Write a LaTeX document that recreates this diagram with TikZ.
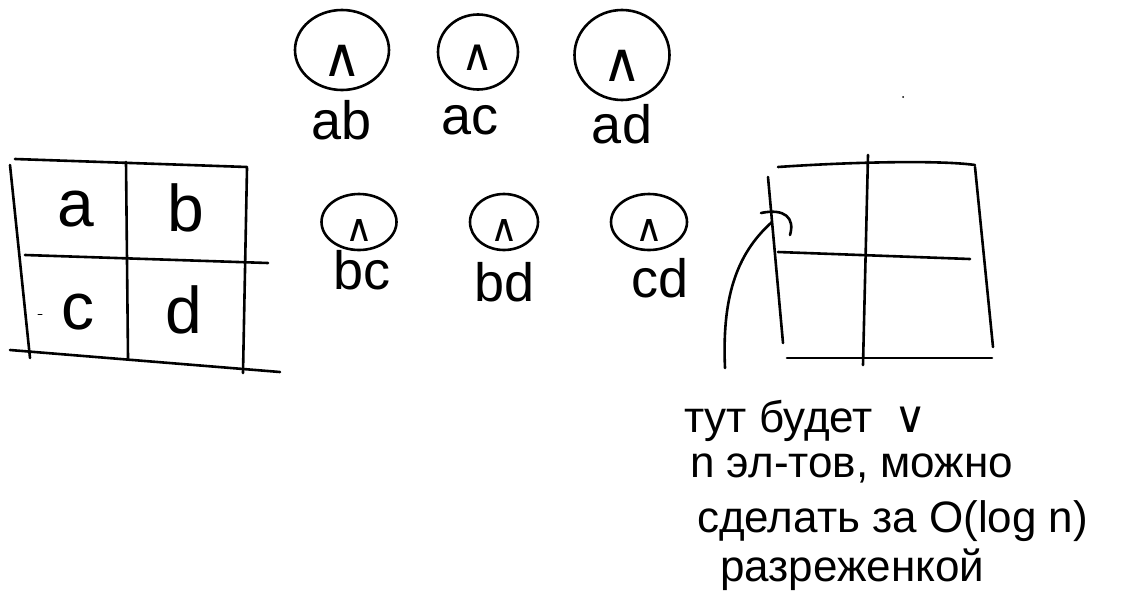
\documentclass[tikz,border=0pt]{standalone}
\usepackage{fontspec}
\setmainfont{Liberation Sans}
\newfontfamily\symf{DejaVu Sans}
\usetikzlibrary{shapes.geometric}
\begin{document}
\begin{tikzpicture}[x=1pt,y=-1pt,line cap=round,line join=round,
  pen/.style={line width=2.6pt,black},
  gate/.style={ellipse,draw,line width=2.6pt,inner sep=0pt,text depth=0pt,text height=52pt,font=\symf\fontsize{54}{54}\selectfont},
  sgate/.style={gate,text height=38pt,font=\symf\fontsize{38}{38}\selectfont},
  lab/.style={inner sep=0pt,font=\fontsize{54}{54}\selectfont},
  cell/.style={inner sep=0pt,font=\fontsize{66}{66}\selectfont},
  note/.style={inner sep=0pt,anchor=base west,font=\fontsize{44}{46}\selectfont}]
\useasboundingbox (0,0) rectangle (1129,595);
% gates
\node[gate,minimum width=94,minimum height=80] (ab) at (342,50) {∧};
\node[gate,minimum width=80,minimum height=75,text height=36pt,font=\symf\fontsize{44}{44}\selectfont] (ac) at (478,52) {∧};
\node[gate,minimum width=95,minimum height=90] (ad) at (622,55) {∧};
\node[sgate,minimum width=75,minimum height=56] (bc) at (359,222) {∧};
\node[sgate,minimum width=68,minimum height=56] (bd) at (504,222) {∧};
\node[sgate,minimum width=76,minimum height=56] (cd) at (649,222) {∧};
\node[lab] (ablab) at (342,120) {ab};
\node[lab] (aclab) at (470,120) {ac};
\node[lab] (adlab) at (622,124) {ad};
\node[lab] (bclab) at (362,270) {bc};
\node[lab] (bdlab) at (505,282) {bd};
\node[lab] (cdlab) at (660,278) {cd};
% left table
\draw[pen] (15,159) -- (247,167);
\draw[pen] (10,165) -- (30,358);
\draw[pen] (126,162) -- (128,358);
\draw[pen] (247,168) -- (243,373);
\draw[pen] (25,255) -- (268,263);
\draw[pen] (10,350) -- (280,372);
\draw[line width=1pt] (38,314) -- (42,314);
\node[cell] (a) at (76,209) {a};
\node[cell] (b) at (186,208) {b};
\node[cell] (c) at (78,312) {c};
\node[cell] (d) at (184,310) {d};
% right grid
\draw[pen] (778,167) .. controls (850,162) and (940,160) .. (975,165);
\draw[pen] (768,177) -- (783,343);
\draw[pen] (868,155) -- (863,365);
\draw[pen] (975,167) -- (993,347);
\draw[pen] (778,252) -- (970,259);
\draw[pen] (787,358) -- (992,358);
\coordinate (tail) at (725,368);
\coordinate (tip) at (772,222);
\draw[pen] (tail) .. controls (722,300) and (735,255) .. (tip);
\draw[pen] (761,213) .. controls (785,208) and (795,218) .. (790,235);
\fill (903,97) circle (1);
% note
\node[note] (t1) at (684,432) {тут будет\hspace{22pt}{\symf ∨}};
\node[note] (t2) at (690,477) {n эл-тов, можно};
\node[note] (t3) at (697,532) {сделать за O(log n)};
\node[note] (t4) at (720,581) {разреженкой};
\end{tikzpicture}
\end{document}
